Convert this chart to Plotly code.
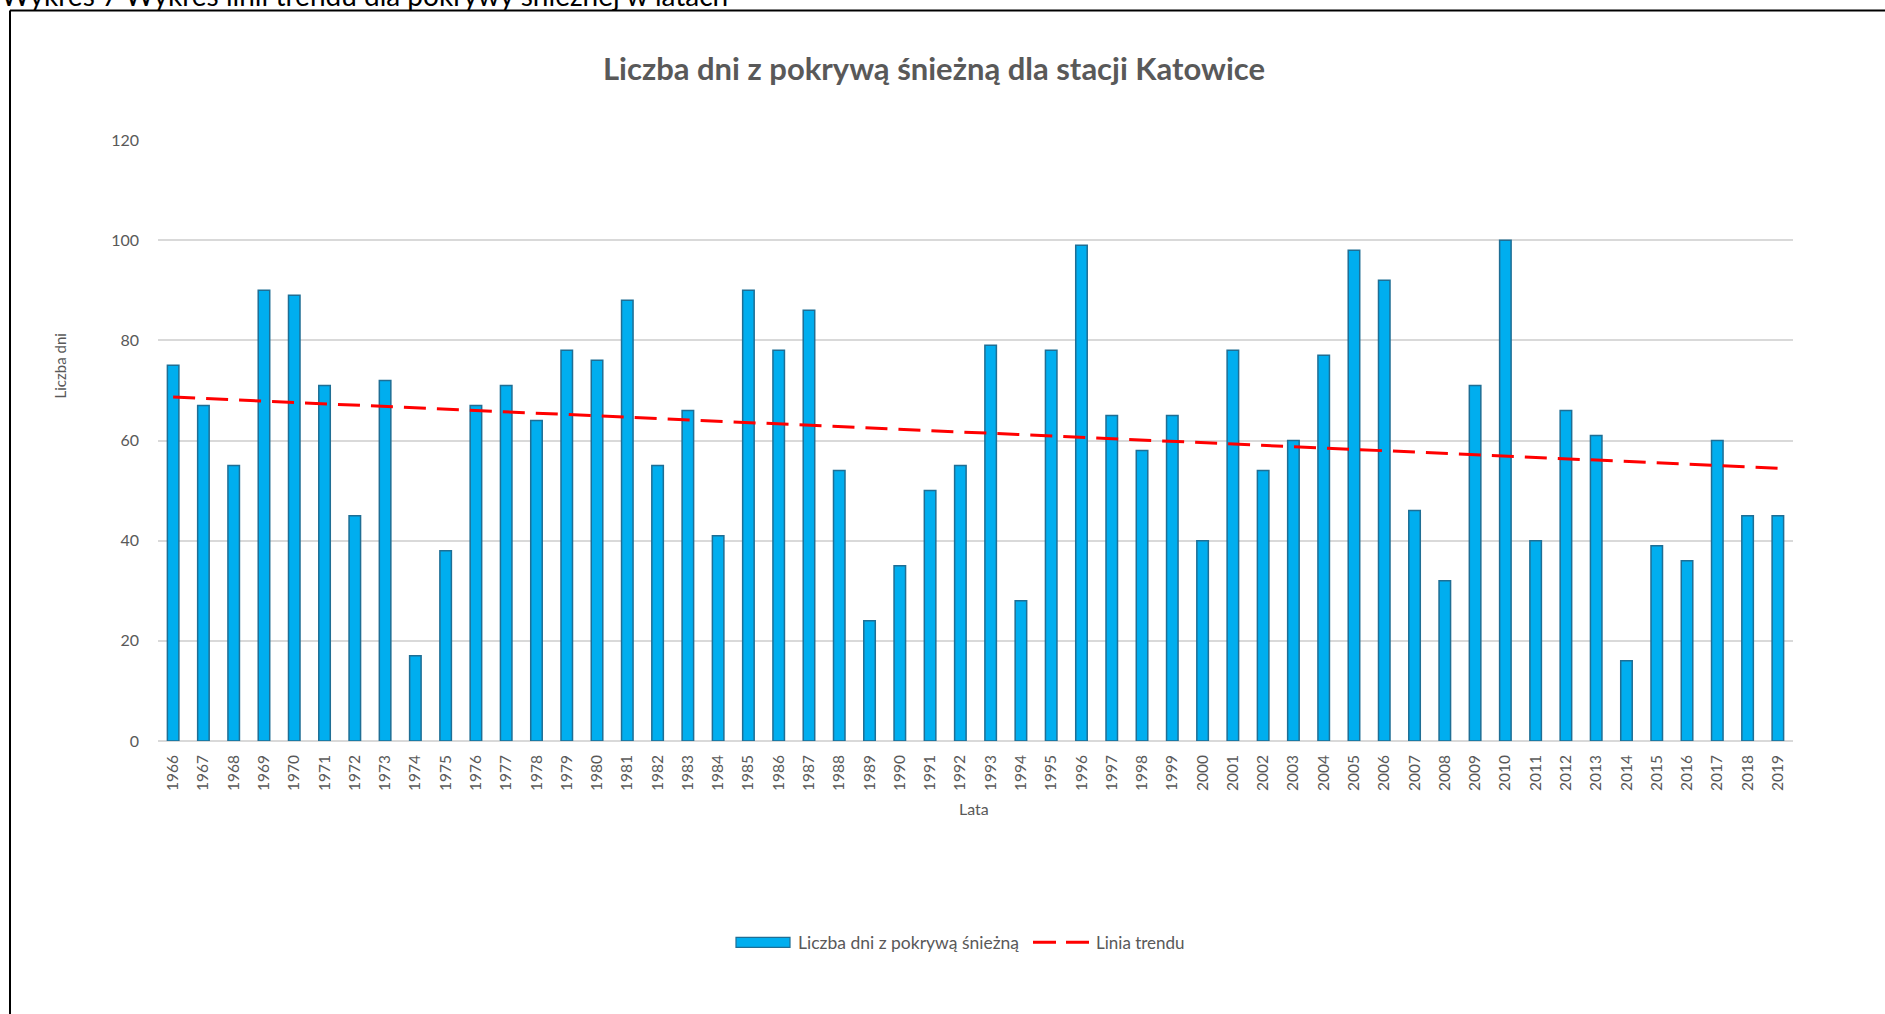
import numpy as np
import plotly.graph_objects as go

# Snow-cover days per year, Katowice station
years = list(range(1966, 2020))
snow_days = [75, 67, 55, 90, 89, 71, 45, 72, 17, 38,
             67, 71, 64, 78, 76, 88, 55, 66, 41, 90,
             78, 86, 54, 24, 35, 50, 55, 79, 28, 78,
             99, 65, 58, 65, 40, 78, 54, 60, 77, 98,
             92, 46, 32, 71, 100, 40, 66, 61, 16, 39,
             36, 60, 45, 45]
y_ticks = [0, 20, 40, 60, 80, 100, 120]

caption = "Wykres 7 Wykres linii trendu dla pokrywy śnieżnej w latach"
title = "Liczba dni z pokrywą śnieżną dla stacji Katowice"
bar_name = "Liczba dni z pokrywą śnieżną"
trend_name = "Linia trendu"

# page geometry (pixels)
W, H = 1885, 1014
PL, PR, PT, PB = 158, 1793, 139.5, 740.6
FONT = "Lato"
GRAY = "#595959"
BAR_FILL = "#00AEEF"
BAR_EDGE = "#1F6E94"


def px_x(v):
    return (v - PL) / (PR - PL)


def px_y(v):
    return (PB - v) / (PB - PT)


# least-squares linear trend over the whole series
slope, intercept = np.polyfit(years, snow_days, 1)
trend_x = [years[0], years[-1]]
trend_y = [slope * x + intercept for x in trend_x]

fig = go.Figure()
fig.add_trace(go.Bar(
    x=years, y=snow_days, name=bar_name, width=0.38,
    marker=dict(color=BAR_FILL, line=dict(color=BAR_EDGE, width=1.5)),
    showlegend=False,
))
fig.add_trace(go.Scatter(
    x=trend_x, y=trend_y, mode="lines", name=trend_name,
    line=dict(color="#FF0000", width=3, dash="22px,11px"),
    showlegend=False,
))

LEG_Y = 942
shapes = [
    # outer frame (left and top edges)
    dict(type="line", xref="paper", yref="paper",
         x0=px_x(10), x1=px_x(10), y0=px_y(10), y1=px_y(1030),
         line=dict(color="black", width=2)),
    dict(type="line", xref="paper", yref="paper",
         x0=px_x(10), x1=px_x(1900), y0=px_y(10), y1=px_y(10),
         line=dict(color="black", width=2)),
    # legend swatches
    dict(type="rect", xref="paper", yref="paper",
         x0=px_x(736), x1=px_x(790), y0=px_y(LEG_Y - 5), y1=px_y(LEG_Y + 5),
         fillcolor=BAR_FILL, line=dict(color=BAR_EDGE, width=1.2)),
    dict(type="line", xref="paper", yref="paper",
         x0=px_x(1033), x1=px_x(1089), y0=px_y(LEG_Y), y1=px_y(LEG_Y),
         line=dict(color="#FF0000", width=3, dash="23px,10px")),
]

annotations = [
    dict(text=caption, xref="paper", yref="paper", x=px_x(-1), y=px_y(-6),
         xanchor="left", yanchor="middle", showarrow=False,
         font=dict(family=FONT, size=28, color="black")),
    dict(text=f"<b>{title}</b>", xref="paper", yref="paper",
         x=px_x(934), y=px_y(67), xanchor="center", yanchor="middle",
         showarrow=False, font=dict(family=FONT, size=31, color=GRAY)),
    dict(text="Liczba dni", xref="paper", yref="paper", x=px_x(60), y=px_y(366),
         xanchor="center", yanchor="middle", textangle=-90, showarrow=False,
         font=dict(family=FONT, size=15, color=GRAY)),
    dict(text="Lata", xref="paper", yref="paper", x=px_x(974), y=px_y(808),
         xanchor="center", yanchor="middle", showarrow=False,
         font=dict(family=FONT, size=16, color=GRAY)),
    dict(text=bar_name, xref="paper", yref="paper", x=px_x(796), y=px_y(LEG_Y),
         xanchor="left", yanchor="middle", showarrow=False,
         font=dict(family=FONT, size=17.5, color=GRAY)),
    dict(text=trend_name, xref="paper", yref="paper", x=px_x(1094), y=px_y(LEG_Y),
         xanchor="left", yanchor="middle", showarrow=False,
         font=dict(family=FONT, size=17, color=GRAY)),
]

fig.update_layout(
    width=W, height=H, autosize=False,
    margin=dict(l=PL, r=W - PR, t=PT, b=H - PB, pad=0),
    paper_bgcolor="white", plot_bgcolor="white",
    font=dict(family=FONT, color=GRAY),
    shapes=shapes, annotations=annotations,
    bargap=0.62,
)
fig.update_xaxes(
    range=[years[0] - 0.5, years[-1] + 0.5],
    tickmode="array", tickvals=years, ticktext=[str(y) for y in years],
    tickangle=-90, tickfont=dict(size=15.5, color=GRAY),
    showgrid=False, zeroline=False, showline=False, ticks="",
    ticklabelstandoff=10,
)
fig.update_yaxes(
    range=[0, 120], tickmode="array", tickvals=y_ticks,
    tickfont=dict(size=16, color=GRAY),
    showgrid=True, gridcolor="#D9D9D9", gridwidth=1.5,
    zeroline=True, zerolinecolor="#D9D9D9", zerolinewidth=1.5,
    showline=False, ticks="", ticklabelstandoff=18,
)

fig.write_html("out.html")
